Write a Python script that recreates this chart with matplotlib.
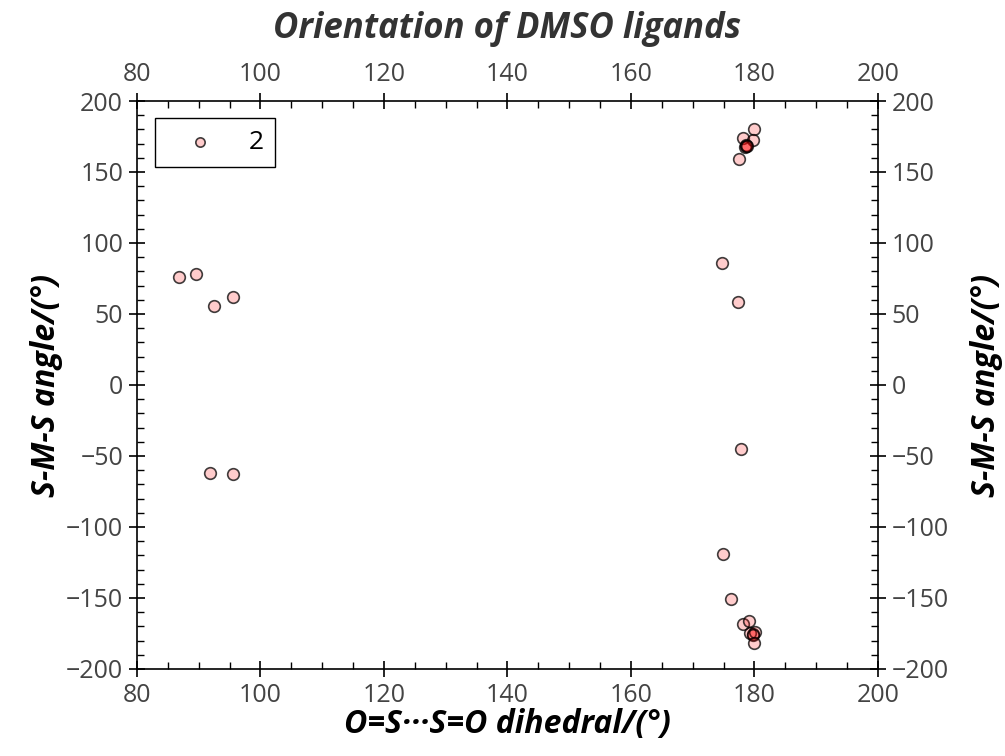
import numpy as np
import matplotlib.pyplot as plt
from matplotlib.ticker import MultipleLocator

plt.rcParams["font.family"] = ["Open Sans", "DejaVu Sans"]

# O=S...S=O dihedral (deg) vs S-M-S angle (deg), series "2"
dihedral = [86.8, 89.6, 92.5, 95.5, 91.8, 95.6,
            174.7, 177.4, 177.8, 174.9,
            180.0, 178.2, 179.8, 178.7, 178.4, 178.6, 178.8, 177.5,
            176.2, 178.2, 179.1, 179.7, 179.3, 180.1, 179.8, 180.0]
sms_angle = [76, 78, 55.6, 62, -62, -63,
             85.7, 58.2, -45, -119,
             180.3, 174, 172.5, 169, 167.8, 168.5, 168, 159,
             -150.7, -168.3, -166, -175.4, -175, -174, -176, -181.9]
series_name = "2"

fig = plt.figure(figsize=(10.05, 7.56), dpi=100)
ax = fig.add_axes([0.1363, 0.1151, 0.7373, 0.7513])

ax.scatter(dihedral, sms_angle, s=70, facecolor=(1, 0, 0, 0.2),
           edgecolor=(0, 0, 0, 0.75), linewidth=1.2, label=series_name, zorder=3)

ax.set_xlim(80, 200)
ax.set_ylim(-200, 200)
ax.xaxis.set_major_locator(MultipleLocator(20))
ax.xaxis.set_minor_locator(MultipleLocator(5))
ax.yaxis.set_major_locator(MultipleLocator(50))
ax.yaxis.set_minor_locator(MultipleLocator(10))

ax.tick_params(which="major", direction="inout", length=12, width=1.2,
               top=True, right=True, labeltop=True, labelright=True,
               labelsize=18, labelcolor="#444444", pad=4)
ax.tick_params(which="minor", direction="in", length=5, width=1.0,
               top=True, right=True)
for s in ax.spines.values():
    s.set_linewidth(1.2)

ax.set_xlabel("O=S\u00b7\u00b7\u00b7S=O dihedral/(\u00b0)", fontsize=23,
              fontweight="bold", style="italic", labelpad=0)
ax.set_ylabel("S-M-S angle/(\u00b0)", fontsize=23, fontweight="bold",
              style="italic", labelpad=2)
ax2 = ax.secondary_yaxis("right")
ax2.set_yticks([])
ax2.tick_params(length=0, labelright=False)
ax2.set_ylabel("S-M-S angle/(\u00b0)", fontsize=23, fontweight="bold",
               style="italic", labelpad=66)
ax2.spines["right"].set_visible(False)

fig.text(0.505, 0.962, "Orientation of DMSO ligands", ha="center", va="center",
         fontsize=25, fontweight="bold", style="italic", color="#333333")

leg = ax.legend(loc="upper left", fontsize=19, markerscale=0.8, fancybox=False,
                edgecolor="black", framealpha=1, borderpad=0.45, borderaxespad=0,
                handlelength=2.5, handletextpad=0.6, bbox_to_anchor=(0.024, 0.97))
leg.get_frame().set_linewidth(1.0)

fig.savefig("out.png", dpi=100)
